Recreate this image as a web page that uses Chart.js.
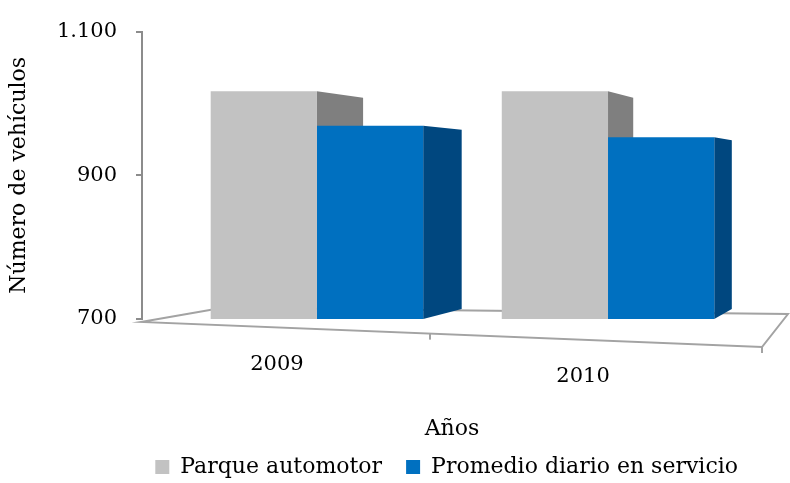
<!DOCTYPE html>
<html>
<head>
<meta charset="utf-8">
<script src="https://cdn.jsdelivr.net/npm/chart.js@4"></script>
<style>
  html, body { margin: 0; padding: 0; background: #fff; }
</style>
</head>
<body>
<canvas id="chart" width="790" height="483"></canvas>
<script>
const years = ['2009', '2010'];
const parqueAutomotor = [1017, 1017];
const promedioDiario = [969, 953];
const yTicks = [700, 900, 1100];

const FONT = "'DejaVu Serif', serif";
const axisGray = '#8c8c8c';

// fake 3D: vanishing point to the right of the plot, shared depth for all bars
const VP = (a, base) => ({ x: a.right + 196, y: base - 139 });
const BAR_DEPTH = 0.072;
const FLOOR_DEPTH = 0.1;

// perspective shift for things on the floor's front edge
function persp(a, px) {
  return px - 49 + 32 * (px - a.left) / (a.right - a.left);
}

function floorCorners(a, base) {
  const vp = VP(a, base);
  const fl = { x: a.left - 1, y: base + 3 };
  const fr = { x: a.right, y: base + 28 };
  const bl = { x: fl.x + (vp.x - fl.x) * FLOOR_DEPTH, y: fl.y + (vp.y - fl.y) * FLOOR_DEPTH };
  const br = { x: a.right + 26, y: base - 5 };
  return { fl, fr, bl, br };
}

function frontY(f, px) {
  return f.fl.y + (px - f.fl.x) * (f.fr.y - f.fl.y) / (f.fr.x - f.fl.x);
}

const sideColors = ['#7f7f7f', '#00477f'];

const depth3d = {
  id: 'depth3d',
  beforeDatasetsDraw(chart) {
    const { ctx, chartArea: a, scales: { x, y } } = chart;
    const base = y.getPixelForValue(yTicks[0]);
    const vp = VP(a, base);
    const f = floorCorners(a, base);

    ctx.save();
    // floor
    ctx.beginPath();
    ctx.moveTo(f.fl.x, f.fl.y);
    ctx.lineTo(f.bl.x, f.bl.y);
    ctx.lineTo(f.br.x, f.br.y);
    ctx.lineTo(f.fr.x, f.fr.y);
    ctx.closePath();
    ctx.fillStyle = '#ffffff';
    ctx.fill();
    ctx.strokeStyle = '#a3a3a3';
    ctx.lineWidth = 2;
    ctx.stroke();

    // ticks on the front edge
    const mid = persp(a, x.getPixelForValue(0.5));
    [[mid, frontY(f, mid)], [f.fr.x, f.fr.y]].forEach(([tx, ty]) => {
      ctx.beginPath();
      ctx.moveTo(tx, ty);
      ctx.lineTo(tx, ty + 6);
      ctx.stroke();
    });

    // right side faces of the bars (bars are clipped at the 700 floor)
    chart.data.datasets.forEach((ds, di) => {
      chart.getDatasetMeta(di).data.forEach(bar => {
        const p = bar.getProps(['x', 'y', 'width'], true);
        const bottom = base;
        const r = p.x + p.width / 2;
        const back = (py) => ({ x: r + (vp.x - r) * BAR_DEPTH, y: py + (vp.y - py) * BAR_DEPTH });
        const bt = back(p.y), bb = back(bottom);
        ctx.beginPath();
        ctx.moveTo(r, p.y);
        ctx.lineTo(bt.x, bt.y);
        ctx.lineTo(bb.x, bb.y);
        ctx.lineTo(r, bottom);
        ctx.closePath();
        ctx.fillStyle = sideColors[di];
        ctx.fill();
      });
    });
    ctx.restore();
  },
  afterDraw(chart) {
    const { ctx, chartArea: a, scales: { x, y } } = chart;
    const base = y.getPixelForValue(yTicks[0]);
    const f = floorCorners(a, base);
    ctx.save();
    ctx.font = '21px ' + FONT;
    ctx.fillStyle = '#000';
    ctx.textAlign = 'center';
    ctx.textBaseline = 'middle';
    years.forEach((label, i) => {
      const px = persp(a, x.getPixelForValue(i));
      ctx.fillText(label, px, frontY(f, px) + 37);
    });
    ctx.restore();
  }
};

function fmtMiles(v) {
  return String(v).replace(/\B(?=(\d{3})+(?!\d))/g, '.');
}

new Chart(document.getElementById('chart'), {
  type: 'bar',
  data: {
    datasets: [
      {
        label: 'Parque automotor',
        data: years.map((_, i) => ({ x: i, y: parqueAutomotor[i] })),
        backgroundColor: '#c2c2c2',
        borderWidth: 0,
      },
      {
        label: 'Promedio diario en servicio',
        data: years.map((_, i) => ({ x: i, y: promedioDiario[i] })),
        backgroundColor: '#0070c0',
        borderWidth: 0,
      },
    ],
  },
  options: {
    responsive: false,
    animation: false,
    categoryPercentage: 0.73,
    barPercentage: 1,
    layout: { padding: { top: 30, right: 28, bottom: -5, left: 0 } },
    plugins: {
      tooltip: { enabled: false },
      legend: {
        position: 'bottom',
        align: 'end',
        labels: {
          color: '#000',
          font: { family: FONT, size: 22 },
          boxWidth: 14,
          boxHeight: 14,
          padding: 24,
        },
      },
    },
    scales: {
      x: {
        type: 'linear',
        min: -0.601,
        max: 1.529,
        afterBuildTicks: (scale) => { scale.ticks = []; },
        afterFit: (scale) => { scale.height = 113; },
        ticks: { display: false },
        grid: { display: false },
        border: { display: false },
        title: {
          display: true,
          text: 'Años',
          color: '#000',
          font: { family: FONT, size: 22 },
          padding: { top: 0, bottom: -10 },
        },
      },
      y: {
        min: 700,
        max: 1100,
        afterBuildTicks: (scale) => { scale.ticks = yTicks.map(v => ({ value: v })); },
        afterFit: (scale) => { scale.width = 142; },
        ticks: {
          color: '#000',
          font: { family: FONT, size: 21 },
          padding: 19,
          callback: (v) => fmtMiles(v),
        },
        grid: { drawOnChartArea: false, tickLength: 6, color: axisGray, lineWidth: 2 },
        border: { color: axisGray, width: 2 },
        title: {
          display: true,
          text: 'Número de vehículos',
          color: '#000',
          font: { family: FONT, size: 22 },
          padding: { top: 6, bottom: 0 },
        },
      },
    },
  },
  plugins: [depth3d],
});
</script>
</body>
</html>
